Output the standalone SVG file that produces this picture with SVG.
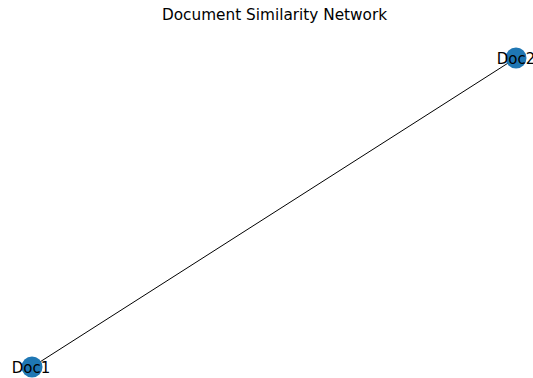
<svg xmlns="http://www.w3.org/2000/svg" width="533" height="378" viewBox="0 0 533 378">
<style>
.node{fill:#1f77b4;}
.lbl{font-family:"DejaVu Sans",sans-serif;font-size:15px;fill:#000;text-anchor:middle;}
.title{font-family:"DejaVu Sans",sans-serif;font-size:15.3px;fill:#000;text-anchor:middle;}
.edge{stroke:#000;stroke-width:1;fill:none;}
</style>
<rect width="533" height="378" fill="#fff"/>
<text class="title" x="274.5" y="20">Document Similarity Network</text>
<g id="edges">
<line class="edge" x1="32" y1="367" x2="516" y2="58"/>
</g>
<g id="doc1">
<circle class="node" cx="32" cy="367" r="10.5"/>
<text class="lbl" x="31" y="372.5">Doc1</text>
</g>
<g id="doc2">
<circle class="node" cx="516" cy="58" r="10.5"/>
<text class="lbl" x="516" y="63.5">Doc2</text>
</g>
</svg>
